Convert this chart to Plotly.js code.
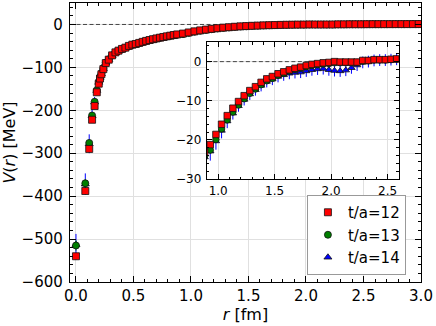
<!DOCTYPE html>
<html>
<head>
<meta charset="utf-8">
<script src="https://cdn.plot.ly/plotly-3.0.1.min.js"></script>
<style>
  html, body { margin: 0; padding: 0; background: #fff; }
  #chart { width: 436px; height: 326px; }
</style>
</head>
<body>
<div id="chart"></div>
<script>
// r values [fm], shared by all three time slices
const rValues = [
  0.0, 0.081, 0.115, 0.140, 0.162, 0.181, 0.198, 0.209, 0.221, 0.238, 0.259, 0.285, 0.314, 0.343,
  0.37, 0.40, 0.43, 0.46, 0.49, 0.52, 0.55, 0.58, 0.61, 0.64, 0.67, 0.70, 0.73, 0.76, 0.79, 0.82, 0.85, 0.88,
  0.93, 0.98, 1.03, 1.08, 1.13, 1.18, 1.23, 1.28, 1.33, 1.38, 1.43, 1.48, 1.53, 1.58, 1.63, 1.68, 1.73,
  1.78, 1.83, 1.88, 1.93, 1.98, 2.03, 2.08, 2.13, 2.18, 2.23, 2.28, 2.33, 2.38, 2.43, 2.48, 2.53, 2.58,
  2.63, 2.68, 2.73, 2.78, 2.83, 2.88, 2.93, 2.98
];

// V(r) [MeV] for t/a = 12
const v12 = [
  -540, -388, -290, -222, -190, -158, -138, -126, -116, -104, -90, -82, -72, -65,
  -61, -57, -54, -50, -47, -45.5, -43, -40.5, -38.3, -36.2, -34.3, -32.5, -30.8, -29.2, -27.6, -26.1, -24.6, -23.2,
  -21.2, -18.6, -16.0, -13.8, -11.9, -10.2, -8.7, -7.4, -6.4, -5.3, -4.4, -3.8, -3.1, -2.6, -2.1, -1.7, -1.4,
  -1.0, -0.7, -0.5, -0.3, -0.2, 0.0, -0.1, -0.1, -0.1, -0.1, 0.3, 0.3, 0.5, 0.5, 0.5, 0.6, 0.7,
  0.7, 0.7, 0.7, 0.8, 0.8, 0.8, 0.8, 0.9
];
const e12 = [
  8, 6, 5, 4, 3, 3, 2, 2, 2, 1.5, 1.5, 1, 1, 1,
  0.8, 0.8, 0.8, 0.7, 0.7, 0.7, 0.6, 0.6, 0.6, 0.5, 0.5, 0.5, 0.5, 0.5, 0.5, 0.5, 0.5, 0.5,
  0.5, 0.5, 0.5, 0.4, 0.4, 0.4, 0.4, 0.4, 0.4, 0.4, 0.4, 0.4, 0.4, 0.4, 0.4, 0.4, 0.4,
  0.4, 0.4, 0.4, 0.4, 0.4, 0.4, 0.4, 0.4, 0.4, 0.4, 0.4, 0.4, 0.4, 0.4, 0.4, 0.4, 0.4,
  0.4, 0.4, 0.4, 0.4, 0.4, 0.4, 0.4, 0.4
];

// V(r) [MeV] for t/a = 13
const v13 = [
  -515, -370, -276, -212, -180, -153, -134, -123, -114, -102, -89, -81, -72, -65,
  -61.5, -57.5, -54.5, -50.7, -47.7, -46.2, -43.7, -41.2, -39, -36.9, -35, -33.2, -31.5, -29.9, -28.3, -26.8, -25.4, -24.2,
  -22.6, -19.9, -17.2, -14.9, -12.9, -11.1, -9.5, -8.1, -7.0, -5.9, -4.9, -4.3, -3.5, -3.0, -2.4, -2.0, -1.7,
  -1.3, -1.0, -0.8, -0.6, -0.5, -0.3, -0.3, -0.3, -0.3, -0.2, 0.1, 0.2, 0.4, 0.4, 0.4, 0.5, 0.6,
  0.6, 0.6, 0.7, 0.7, 0.7, 0.8, 0.8, 0.8
];
const e13 = [
  12, 10, 8, 6, 5, 4, 3, 3, 2.5, 2, 2, 1.5, 1.5, 1.2,
  1.0, 1.0, 1.0, 0.9, 0.9, 0.9, 0.8, 0.8, 0.8, 0.8, 0.8, 0.8, 0.8, 0.8, 0.8, 0.8, 0.8, 0.8,
  0.9, 0.8, 0.8, 0.7, 0.7, 0.7, 0.6, 0.6, 0.6, 0.6, 0.6, 0.6, 0.6, 0.6, 0.6, 0.6, 0.6,
  0.6, 0.6, 0.6, 0.6, 0.6, 0.6, 0.6, 0.6, 0.6, 0.6, 0.6, 0.6, 0.6, 0.6, 0.6, 0.6, 0.6,
  0.6, 0.6, 0.6, 0.6, 0.6, 0.6, 0.6, 0.6
];

// V(r) [MeV] for t/a = 14
const v14 = [
  -513, -372, -278, -213, -181, -154, -135, -124, -115, -103, -90, -82, -73, -66,
  -62, -58, -55, -51, -48, -46.5, -44, -41.5, -39.3, -37.2, -35.3, -33.5, -31.8, -30.2, -28.6, -27.1, -25.7, -24.4,
  -22.9, -20.3, -17.6, -15.2, -13.2, -11.3, -9.7, -8.3, -7.2, -6.1, -5.1, -4.5, -3.8, -3.4, -3.0, -2.8, -2.7,
  -2.4, -2.1, -1.9, -1.8, -2.1, -2.3, -2.4, -2.2, -1.6, -0.9, -0.2, 0.0, 0.3, 0.4, 0.4, 0.5, 0.6,
  0.6, 0.6, 0.6, 0.7, 0.7, 0.7, 0.7, 0.8
];
const e14 = [
  25, 25, 22, 15, 12, 10, 8, 7, 6, 5, 4, 3.5, 3, 2.5,
  2.3, 2.2, 2.1, 2.0, 2.0, 1.9, 1.9, 1.8, 1.8, 1.8, 1.7, 1.7, 1.7, 1.7, 1.6, 1.6, 1.6, 1.6,
  2.4, 2.2, 2.0, 1.8, 1.6, 1.5, 1.5, 1.5, 1.5, 1.5, 1.5, 1.5, 1.5, 1.5, 1.5, 1.5, 1.5,
  1.5, 1.5, 1.5, 1.5, 1.5, 1.5, 1.5, 1.5, 1.5, 1.5, 1.5, 1.5, 1.5, 1.5, 1.5, 1.5, 1.5,
  1.5, 1.5, 1.5, 1.5, 1.5, 1.5, 1.5, 1.5
];

const seriesNames = ['t/a=12', 't/a=13', 't/a=14'];

const FONT = 'DejaVu Sans, sans-serif';

function makeTrace(name, y, err, color, symbol, size, inset, rank) {
    return {
        x: rValues,
        y: y,
        name: name,
        type: 'scatter',
        mode: 'markers',
        xaxis: inset ? 'x2' : 'x',
        yaxis: inset ? 'y2' : 'y',
        showlegend: !inset,
        legendrank: rank,
        marker: {
            color: color,
            symbol: symbol,
            size: size,
            line: { color: '#111', width: 0.8 }
        },
        error_y: {
            type: 'data',
            array: err,
            visible: true,
            color: color,
            thickness: 1,
            width: 0
        },
        hoverinfo: 'skip'
    };
}

// blue first, red last so the red squares sit on top
const traces = [
    makeTrace(seriesNames[2], v14, e14, '#0000ff', 'triangle-up', 7, false, 3),
    makeTrace(seriesNames[1], v13, e13, '#007f00', 'circle', 7, false, 2),
    makeTrace(seriesNames[0], v12, e12, '#ff0000', 'square', 7, false, 1),
    makeTrace(seriesNames[2], v14, e14, '#0000ff', 'triangle-up', 6.5, true, 3),
    makeTrace(seriesNames[1], v13, e13, '#007f00', 'circle', 6.5, true, 2),
    makeTrace(seriesNames[0], v12, e12, '#ff0000', 'square', 6.5, true, 1)
];

const axisCommon = {
    showline: true,
    linecolor: '#000',
    linewidth: 1.2,
    mirror: 'allticks',
    ticks: 'inside',
    tickcolor: '#000',
    showgrid: true,
    gridcolor: '#e0e0e0',
    gridwidth: 1,
    zeroline: false
};

const layout = {
    width: 436,
    height: 326,
    margin: { l: 70, r: 15, t: 3, b: 44 },
    paper_bgcolor: '#fff',
    plot_bgcolor: '#fff',
    font: { family: FONT, color: '#000' },
    showlegend: true,
    xaxis: Object.assign({}, axisCommon, {
        domain: [0, 1],
        range: [-0.052, 3.0],
        tickvals: [0, 0.5, 1.0, 1.5, 2.0, 2.5, 3.0],
        tickformat: '.1f',
        ticklen: 6,
        tickfont: { family: FONT, size: 15 },
        minor: { dtick: 0.1, ticks: 'inside', ticklen: 3, tickcolor: '#000', showgrid: false },
        title: { text: '<i>r</i> [fm]', font: { family: FONT, size: 16 }, standoff: 2 }
    }),
    yaxis: Object.assign({}, axisCommon, {
        domain: [0, 1],
        range: [-600, 50],
        tickvals: [-600, -500, -400, -300, -200, -100, 0],
        ticklen: 6,
        ticklabelstandoff: 3,
        tickfont: { family: FONT, size: 15 },
        minor: { dtick: 20, ticks: 'inside', ticklen: 3, tickcolor: '#000', showgrid: false },
        title: { text: '<i>V</i>(<i>r</i>) [MeV]', font: { family: FONT, size: 16 }, standoff: 4 }
    }),
    xaxis2: Object.assign({}, axisCommon, {
        domain: [0.39, 0.937],
        anchor: 'y2',
        range: [0.9, 2.6],
        tickvals: [1.0, 1.5, 2.0, 2.5],
        tickformat: '.1f',
        ticklen: 5,
        tickfont: { family: FONT, size: 12 },
        minor: { dtick: 0.1, ticks: 'inside', ticklen: 2.5, tickcolor: '#000', showgrid: false }
    }),
    yaxis2: Object.assign({}, axisCommon, {
        domain: [0.369, 0.86],
        anchor: 'x2',
        range: [-30, 5],
        tickvals: [-30, -20, -10, 0],
        ticklen: 5,
        ticklabelstandoff: 2,
        tickfont: { family: FONT, size: 12 },
        minor: { dtick: 2, ticks: 'inside', ticklen: 2.5, tickcolor: '#000', showgrid: false }
    }),
    // dashed V = 0 reference lines, spanning each axis range
    shapes: [
        {
            type: 'line', xref: 'x', yref: 'y',
            x0: -0.052, x1: 3.0, y0: 0, y1: 0,
            line: { color: '#444', width: 1, dash: '4px,2.5px' },
            layer: 'between'
        },
        {
            type: 'line', xref: 'x2', yref: 'y2',
            x0: 0.9, x1: 2.6, y0: 0, y1: 0,
            line: { color: '#444', width: 1, dash: '4px,2.5px' },
            layer: 'between'
        }
    ],
    legend: {
        x: 0.675,
        y: 0.025,
        xanchor: 'left',
        yanchor: 'bottom',
        bgcolor: '#fff',
        bordercolor: '#999',
        borderwidth: 1,
        traceorder: 'normal',
        font: { family: FONT, size: 15 }
    },
    hovermode: false
};

const config = {
    displayModeBar: false,
    responsive: false,
    staticPlot: true
};

Plotly.newPlot('chart', traces, layout, config);
</script>
</body>
</html>
